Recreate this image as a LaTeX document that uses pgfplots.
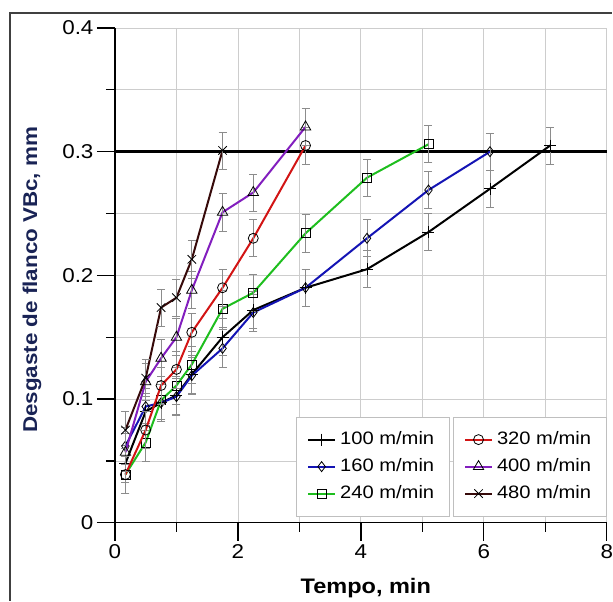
\documentclass[border=0pt]{standalone}
\usepackage{fontspec}
\setmainfont{Liberation Sans}[FakeStretch=1.12]
\usepackage{pgfplots}
\pgfplotsset{compat=1.18}
\definecolor{c100}{RGB}{0,0,0}
\definecolor{c160}{RGB}{20,20,180}
\definecolor{c240}{RGB}{30,190,30}
\definecolor{c320}{RGB}{210,20,20}
\definecolor{c400}{RGB}{130,30,190}
\definecolor{c480}{RGB}{55,10,10}
\definecolor{ylab}{RGB}{25,35,85}
\definecolor{gridc}{RGB}{205,205,205}
\definecolor{errc}{RGB}{140,140,140}
\pgfplotsset{
  common/.style={scale only axis, width=492pt, height=495pt, xmin=0, xmax=8, ymin=0, ymax=0.4},
  ser/.style={line width=2pt, mark options={solid, black, fill=none, line width=0.8pt},
    /pgfplots/error bars/y dir=both, /pgfplots/error bars/y fixed=0.015,
    /pgfplots/error bars/error bar style={errc, line width=0.7pt},
    /pgfplots/error bars/error mark options={rotate=90, mark size=4pt, errc, line width=0.7pt}},
  leg/.style={legend style={draw=gray!50, fill=white, inner xsep=11pt, inner ysep=9pt,
      row sep=0pt, column sep=0pt, font=\fontsize{18}{20}\selectfont,
      nodes={inner xsep=4pt, inner ysep=5pt, text height=13pt, text depth=4pt, anchor=west},
      at={(#1,0.214)}, anchor=north west},
    legend cell align=left,
    legend image code/.code={\draw[mark repeat=2,mark phase=2,##1] plot coordinates {(0pt,0pt) (13.5pt,0pt) (27pt,0pt)};}},
}
\begin{document}
\begin{tikzpicture}
\path (-115pt,-79pt) rectangle (498pt,523pt);
\draw[line width=1.3pt, black!75] (-105pt,-78pt) -- (-105pt,510pt) -- (497pt,510pt);
\begin{axis}[common, leg=0.368,
  axis x line*=bottom, axis y line*=left,
  axis line style={line width=1.3pt},
  xtick={0,2,4,6,8}, minor xtick={1,3,5,7},
  ytick={0,0.1,0.2,0.3,0.4}, minor ytick={0.05,0.15,0.25,0.35},
  xtick align=outside, ytick align=outside,
  major tick length=18pt, minor tick length=9pt,
  xmajorgrids, ymajorgrids, xminorgrids, yminorgrids,
  major grid style={color=gridc, line width=0.8pt},
  minor grid style={color=gridc, line width=0.8pt},
  major tick style={draw=black, line width=1.3pt},
  minor tick style={draw=black, line width=1.3pt},
  ticklabel style={font=\fontsize{20}{24}\selectfont},
  xticklabel style={inner xsep=0pt},
  /pgf/number format/assume math mode=true,
  yticklabel style={/pgf/number format/fixed},
  xlabel={Tempo, min}, ylabel={Desgaste de flanco VBc, mm},
  xlabel style={at={(rel axis cs:0.51,-0.131)}, anchor=center, font=\bfseries\fontsize{21}{24}\selectfont},
  ylabel style={at={(rel axis cs:-0.1687,0.491)}, anchor=center, font=\bfseries\fontsize{20}{24}\selectfont, color=ylab},
]
\addplot[black, line width=2.5pt, forget plot] coordinates {(0,0.3) (8,0.3)};
\addplot[c100, mark=+, mark size=6pt, ser] coordinates {
 (0.17,0.048) (0.5,0.09) (0.75,0.097) (1.0,0.103) (1.25,0.12) (1.75,0.15) (2.25,0.172) (3.1,0.19) (4.1,0.205) (5.1,0.235) (6.1,0.27) (7.08,0.305)};
\addlegendentry{100 m/min}
\addplot[c160, mark=diamond, mark size=5pt, ser] coordinates {
 (0.17,0.062) (0.5,0.094) (0.75,0.097) (1.0,0.102) (1.25,0.119) (1.75,0.141) (2.25,0.17) (3.1,0.19) (4.1,0.23) (5.1,0.269) (6.1,0.30)};
\addlegendentry{160 m/min}
\addplot[c240, mark=square, mark size=4.5pt, ser] coordinates {
 (0.17,0.039) (0.5,0.065) (0.75,0.099) (1.0,0.111) (1.25,0.128) (1.75,0.173) (2.25,0.186) (3.1,0.234) (4.1,0.279) (5.1,0.306)};
\addlegendentry{240 m/min}
\end{axis}
\begin{axis}[common, hide axis, leg=0.687]
\addplot[c320, mark=o, mark size=5pt, ser] coordinates {
 (0.17,0.039) (0.5,0.075) (0.75,0.111) (1.0,0.124) (1.25,0.154) (1.75,0.19) (2.25,0.23) (3.1,0.305)};
\addlegendentry{320 m/min}
\addplot[c400, mark=triangle, mark size=6pt, ser] coordinates {
 (0.17,0.057) (0.5,0.114) (0.75,0.133) (1.0,0.15) (1.25,0.188) (1.75,0.251) (2.25,0.267) (3.1,0.32)};
\addlegendentry{400 m/min}
\addplot[c480, mark=x, mark size=6pt, ser] coordinates {
 (0.17,0.075) (0.5,0.117) (0.75,0.174) (1.0,0.182) (1.25,0.213) (1.75,0.301)};
\addlegendentry{480 m/min}
\end{axis}
\end{tikzpicture}
\end{document}
